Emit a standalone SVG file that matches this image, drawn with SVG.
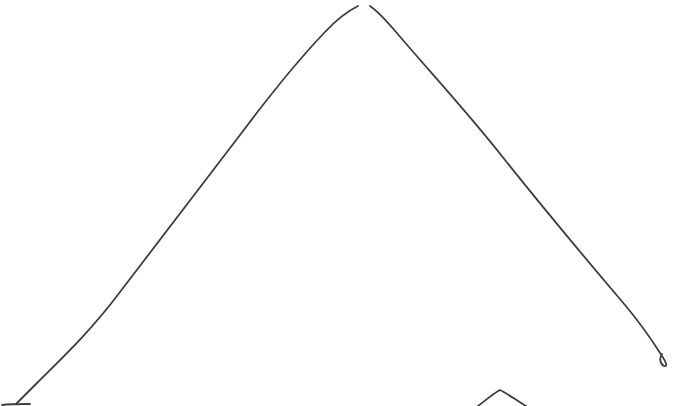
<svg xmlns="http://www.w3.org/2000/svg" width="680" height="406" viewBox="0 0 680 406">
<style>
.s{fill:none;stroke:#3e3e3e;stroke-width:1.8;stroke-linecap:round;stroke-linejoin:round}
</style>
<rect width="680" height="406" fill="#ffffff"/>
<path class="s" d="M358,6 C350,10 338,18 325,32 C300,58 270,95 240,135 C200,188 160,240 120,292 C90,332 60,360 38,382 C28,392 22,398 16,404"/>
<path class="s" d="M2,405 C10,404 20,404 30,404"/>
<path class="s" d="M370,6 C376,10 384,18 396,32 C430,72 470,115 505,160 C545,210 585,258 625,305 C640,323 652,340 662,356 C666,362 668,367 664,366 C660,364 659,358 662,354"/>
<path class="s" d="M478,406 C486,400 494,393 500,390 C508,394 516,400 526,406"/>
</svg>
